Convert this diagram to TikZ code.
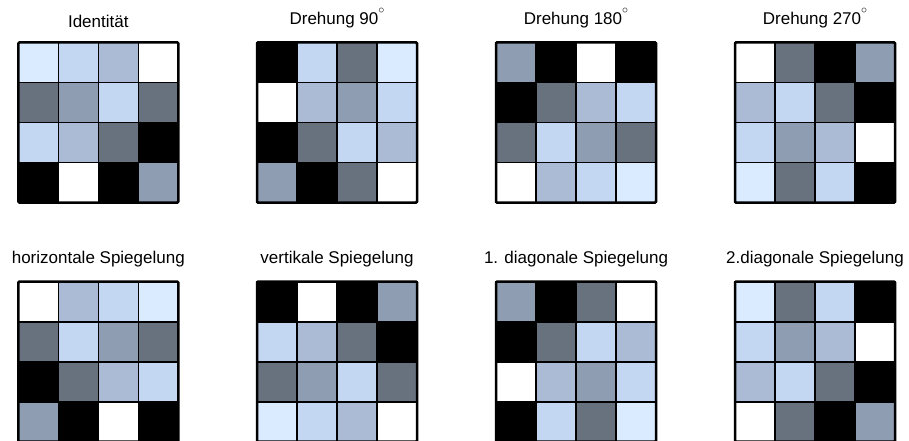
\documentclass[tikz,border=0pt]{standalone}
\usepackage{fontspec}
\setmainfont{Liberation Sans}
\definecolor{cB}{HTML}{DAEBFF}
\definecolor{cC}{HTML}{C3D6F2}
\definecolor{cD}{HTML}{ABBBD6}
\definecolor{cE}{HTML}{8E9DB2}
\definecolor{cF}{HTML}{68727F}
\colorlet{cW}{white}
\colorlet{cK}{black}
\tikzset{
  cell/.style={draw=black, line width=1.6pt, minimum size=40pt, inner sep=0pt, outer sep=0pt},
  gridtitle/.style={font=\fontsize{17}{20}\selectfont, anchor=base, inner sep=0pt},
  gridframe/.style={draw=black, line width=2.5pt, rounded corners=1pt}
}
\newcommand\degsign{\raisebox{11pt}{\fontsize{12}{12}\selectfont$\circ$}}
\newcommand\symgrid[4]{%
  \foreach \c [count=\i from 0] in {#4} {
    \pgfmathtruncatemacro\rowi{int(\i/4)}
    \pgfmathtruncatemacro\coli{mod(\i,4)}
    \node[cell, fill=\c] (#1-\i) at ({#2+\coli*40+20},{-(#3+\rowi*40+20)}) {};
  }
  \draw[gridframe] (#1-0.north west) rectangle (#1-15.south east);
}
\begin{document}
\begin{tikzpicture}[x=1pt,y=1pt]
\useasboundingbox (0,0) rectangle (909,-441);
% top row
\node[gridtitle] (t1) at (98.3,-27.7) {Identität};
\node[gridtitle] (t2) at (337,-25) {Drehung 90\degsign};
\node[gridtitle] (t3) at (576,-25) {Drehung 180\degsign};
\node[gridtitle] (t4) at (815,-25) {Drehung 270\degsign};
\symgrid{g1}{18.3}{42.5}{cB,cC,cD,cW, cF,cE,cC,cF, cC,cD,cF,cK, cK,cW,cK,cE}
\symgrid{g2}{257}{42.5}{cK,cC,cF,cB, cW,cD,cE,cC, cK,cF,cC,cD, cE,cK,cF,cW}
\symgrid{g3}{496}{42.5}{cE,cK,cW,cK, cK,cF,cD,cC, cF,cC,cE,cF, cW,cD,cC,cB}
\symgrid{g4}{735}{42.5}{cW,cF,cK,cE, cD,cC,cF,cK, cC,cE,cD,cW, cB,cF,cC,cK}
% bottom row
\node[gridtitle] (t5) at (98.3,-263.4) {horizontale Spiegelung};
\node[gridtitle] (t6) at (337,-263.4) {vertikale Spiegelung};
\node[gridtitle] (t7) at (576,-263.4) {1. diagonale Spiegelung};
\node[gridtitle] (t8) at (815,-263.4) {2.diagonale Spiegelung};
\symgrid{g5}{18.3}{281.7}{cW,cD,cC,cB, cF,cC,cE,cF, cK,cF,cD,cC, cE,cK,cW,cK}
\symgrid{g6}{257}{281.7}{cK,cW,cK,cE, cC,cD,cF,cK, cF,cE,cC,cF, cB,cC,cD,cW}
\symgrid{g7}{496}{281.7}{cE,cK,cF,cW, cK,cF,cC,cD, cW,cD,cE,cC, cK,cC,cF,cB}
\symgrid{g8}{735}{281.7}{cB,cF,cC,cK, cC,cE,cD,cW, cD,cC,cF,cK, cW,cF,cK,cE}
\end{tikzpicture}
\end{document}
